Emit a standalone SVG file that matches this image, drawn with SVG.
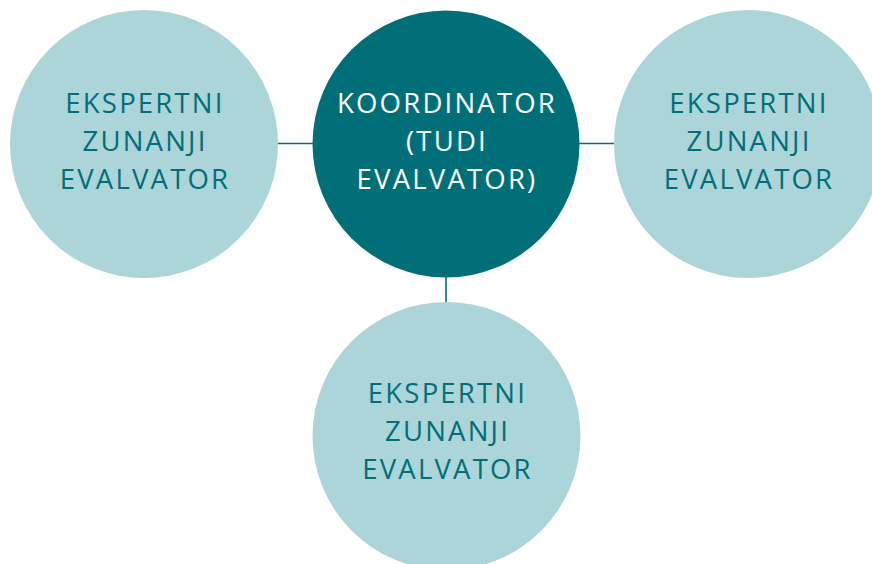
<svg xmlns="http://www.w3.org/2000/svg" width="872" height="564" viewBox="0 0 872 564">
<style>
.light{fill:#acd5d9}
.dark{fill:#006f78}
.t{font-family:"Open Sans","Noto Sans",sans-serif;font-size:27.5px;text-anchor:middle;letter-spacing:2.2px}
.tl{fill:#006f78}
.tw{fill:#ffffff}
.c{stroke:#006f78;stroke-width:1.6;fill:none}
</style>
<rect width="872" height="564" fill="#ffffff"/>
<g id="connectors">
<line class="c" x1="277" y1="143.5" x2="313" y2="143.5"/>
<line class="c" x1="579" y1="143.5" x2="614" y2="143.5"/>
<line class="c" x1="446" y1="277" x2="446" y2="302"/>
</g>
<g id="left">
<circle class="light" cx="144" cy="144" r="134"/>
<text class="t tl" x="145" y="113">EKSPERTNI</text>
<text class="t tl" x="145" y="151">ZUNANJI</text>
<text class="t tl" x="145" y="189">EVALVATOR</text>
</g>
<g id="center">
<circle class="dark" cx="446" cy="144" r="133.5"/>
<text class="t tw" x="447" y="113">KOORDINATOR</text>
<text class="t tw" x="447" y="151">(TUDI</text>
<text class="t tw" x="447" y="189">EVALVATOR)</text>
</g>
<g id="right">
<circle class="light" cx="748" cy="144" r="134"/>
<text class="t tl" x="749" y="113">EKSPERTNI</text>
<text class="t tl" x="749" y="151">ZUNANJI</text>
<text class="t tl" x="749" y="189">EVALVATOR</text>
</g>
<g id="bottom">
<circle class="light" cx="446.5" cy="436" r="134"/>
<text class="t tl" x="447.5" y="403">EKSPERTNI</text>
<text class="t tl" x="447.5" y="441">ZUNANJI</text>
<text class="t tl" x="447.5" y="479">EVALVATOR</text>
</g>
</svg>
